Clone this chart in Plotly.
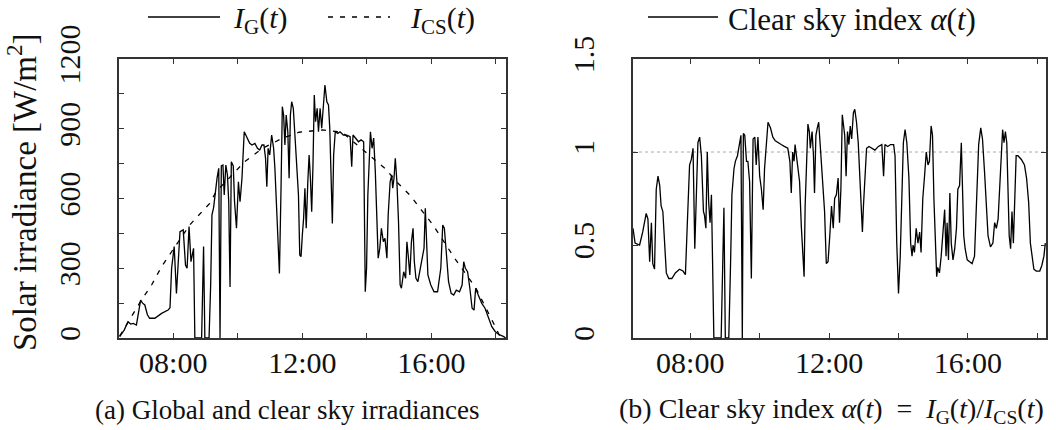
import plotly.graph_objects as go

# ---------------- data ----------------
# (a) global irradiance I_G(t) [W/m^2], time in hours
ig_hours = [6.34, 6.48, 6.60, 6.68, 6.76, 6.86, 6.99, 7.05, 7.12, 7.20, 7.27, 7.43, 7.64, 7.84, 7.90,
            7.95, 8.03, 8.10, 8.21, 8.31, 8.38, 8.43, 8.49, 8.55, 8.63, 8.67, 8.88, 8.94, 8.98, 9.11,
            9.16, 9.20, 9.25, 9.30, 9.36, 9.41, 9.45, 9.49, 9.54, 9.58, 9.63, 9.68, 9.72, 9.76, 9.80,
            9.86, 9.90, 9.96, 10.02, 10.07, 10.13, 10.20, 10.30, 10.37, 10.44, 10.53, 10.61, 10.68, 10.75,
            10.81, 10.86, 10.90, 10.94, 10.99, 11.05, 11.11, 11.15, 11.21, 11.25, 11.29, 11.34, 11.38,
            11.42, 11.46, 11.50, 11.55, 11.59, 11.63, 11.67, 11.72, 11.77, 11.82, 11.88, 11.92, 11.96,
            12.00, 12.04, 12.08, 12.12, 12.17, 12.21, 12.25, 12.29, 12.33, 12.37, 12.41, 12.46, 12.50,
            12.55, 12.60, 12.65, 12.70, 12.76, 12.81, 12.85, 12.89, 12.93, 12.97, 13.02, 13.10, 13.17,
            13.27, 13.38, 13.48, 13.53, 13.57, 13.64, 13.74, 13.82, 13.90, 13.95, 13.99, 14.03, 14.07,
            14.11, 14.16, 14.21, 14.26, 14.31, 14.35, 14.40, 14.45, 14.51, 14.56, 14.62, 14.66, 14.72,
            14.77, 14.80, 14.84, 14.88, 14.93, 14.98, 15.03, 15.07, 15.14, 15.20, 15.24, 15.28, 15.33,
            15.38, 15.43, 15.47, 15.52, 15.58, 15.64, 15.71, 15.77, 15.81, 15.86, 15.89, 15.98, 16.08,
            16.19, 16.29, 16.35, 16.40, 16.45, 16.53, 16.61, 16.69, 16.77, 16.87, 16.95, 17.00, 17.05,
            17.12, 17.19, 17.26, 17.32, 17.37, 17.45, 17.56, 17.66, 17.77, 17.87, 17.98, 18.08, 18.24,
            18.30]
ig_values = [6, 34, 70, 60, 63, 56, 163, 150, 142, 100, 85, 85, 106, 120, 130,
             300, 393, 192, 457, 465, 314, 300, 479, 328, 386, 0, 0, 393, 0, 0,
             229, 530, 560, 630, 690, 730, 0, 740, 744, 615, 744, 700, 586, 219, 758,
             740, 586, 472, 672, 586, 687, 887, 859, 837, 830, 837, 816, 809, 830,
             830, 773, 651, 816, 787, 873, 816, 730, 515, 357, 278, 644, 995,
             959, 830, 959, 887, 687, 959, 1016, 988, 873, 744, 615, 357, 350,
             443, 515, 644, 472, 672, 787, 687, 543, 744, 1045, 930, 988, 887,
             988, 902, 1016, 1088, 1016, 1002, 902, 715, 493, 787, 887, 880, 887,
             873, 873, 866, 737, 873, 859, 844, 852, 844, 199, 300, 615, 801,
             887, 816, 860, 720, 500, 343, 386, 472, 414, 429, 343, 529, 672,
             701, 644, 687, 773, 672, 500, 228, 214, 285, 257, 414, 357, 271,
             414, 472, 328, 257, 242, 285, 328, 386, 558, 371, 271, 228, 199,
             199, 300, 486, 472, 386, 242, 192, 185, 206, 199, 228, 328, 300,
             285, 214, 128, 120, 214, 185, 149, 128, 85, 49, 27, 16, 6,
             0]

# (a) clear sky irradiance I_CS(t) [W/m^2]
ics_hours = [6.34, 6.67, 7.00, 7.33, 7.64, 7.95, 8.51, 9.13, 9.33, 10.21, 10.77, 11.38, 11.90,
             12.62, 13.23, 13.95, 14.56, 14.92, 15.33, 15.69, 16.05, 16.72, 17.08, 17.38, 17.95,
             18.10, 18.22]
ics_values = [8, 85, 160, 228, 307, 371, 486, 579, 629, 758, 816, 859, 885,
              895, 885, 801, 730, 672, 615, 550, 486, 343, 271, 214, 56,
              13, 0]

# (b) clear sky index alpha(t)
alpha_hours = [6.35, 6.41, 6.54, 6.63, 6.73, 6.78, 6.83, 6.88, 6.92, 6.97, 7.02, 7.07, 7.12, 7.16,
               7.21, 7.26, 7.31, 7.38, 7.47, 7.57, 7.69, 7.79, 7.86, 7.91, 7.98, 8.03, 8.08, 8.13,
               8.17, 8.22, 8.27, 8.32, 8.38, 8.41, 8.45, 8.49, 8.53, 8.57, 8.61, 8.64, 8.68, 8.89,
               8.97, 9.01, 9.11, 9.16, 9.20, 9.26, 9.30, 9.36, 9.41, 9.46, 9.50, 9.53, 9.57, 9.62,
               9.66, 9.71, 9.76, 9.81, 9.86, 9.90, 9.95, 10.00, 10.05, 10.10, 10.14, 10.19, 10.24,
               10.31, 10.38, 10.45, 10.52, 10.62, 10.71, 10.81, 10.87, 10.91, 10.95, 10.99, 11.02,
               11.06, 11.10, 11.15, 11.20, 11.24, 11.28, 11.31, 11.35, 11.39, 11.43, 11.46, 11.51,
               11.55, 11.58, 11.62, 11.66, 11.70, 11.74, 11.78, 11.83, 11.87, 11.92, 11.97, 12.02,
               12.07, 12.12, 12.16, 12.21, 12.26, 12.30, 12.34, 12.38, 12.42, 12.45, 12.49, 12.53,
               12.57, 12.61, 12.65, 12.70, 12.74, 12.79, 12.84, 12.88, 12.92, 12.96, 12.99, 13.03,
               13.08, 13.15, 13.23, 13.32, 13.42, 13.52, 13.57, 13.61, 13.69, 13.77, 13.86, 13.90,
               13.95, 14.00, 14.05, 14.10, 14.14, 14.19, 14.24, 14.30, 14.35, 14.39, 14.42, 14.46,
               14.51, 14.56, 14.61, 14.65, 14.70, 14.75, 14.80, 14.85, 14.89, 14.94, 14.98, 15.02,
               15.06, 15.10, 15.13, 15.18, 15.23, 15.28, 15.33, 15.37, 15.40, 15.44, 15.48, 15.52,
               15.57, 15.62, 15.67, 15.71, 15.76, 15.81, 15.85, 15.88, 15.92, 15.98, 16.05, 16.12,
               16.19, 16.25, 16.31, 16.37, 16.42, 16.48, 16.53, 16.58, 16.65, 16.72, 16.77, 16.82,
               16.87, 16.92, 16.96, 17.00, 17.04, 17.08, 17.12, 17.15, 17.19, 17.23, 17.27, 17.31,
               17.35, 17.39, 17.44, 17.54, 17.63, 17.69, 17.75, 17.80, 17.85, 17.90, 17.97, 18.07,
               18.13, 18.19, 18.23]
alpha_values = [0.59, 0.51, 0.50, 0.57, 0.67, 0.64, 0.41, 0.62, 0.40, 0.37, 0.80, 0.87, 0.82, 0.71,
                0.68, 0.48, 0.35, 0.32, 0.32, 0.35, 0.37, 0.36, 0.34, 0.59, 0.93, 0.96, 1.02, 0.48,
                0.77, 1.05, 1.08, 0.98, 0.68, 0.66, 0.59, 1.00, 0.73, 0.62, 0.77, 0.48, 0.0, 0.0,
                0.70, 0.0, 0.0, 0.39, 0.77, 0.91, 0.95, 0.98, 1.04, 1.09, 0.0, 1.10, 1.09, 0.95,
                0.95, 0.84, 0.32, 1.07, 1.08, 0.93, 1.08, 0.87, 0.80, 0.69, 0.91, 1.05, 1.16,
                1.13, 1.08, 1.06, 1.05, 1.04, 1.03, 1.02, 0.95, 0.78, 1.00, 0.95, 1.04,
                0.98, 0.93, 0.84, 0.60, 0.42, 0.33, 0.71, 0.98, 1.15, 1.11, 1.02, 1.11,
                0.98, 0.78, 1.09, 1.13, 1.16, 1.05, 0.93, 0.84, 0.68, 0.40, 0.41, 0.55,
                0.71, 0.59, 0.75, 0.77, 0.86, 0.62, 0.80, 1.20, 1.13, 1.09, 0.87, 1.11,
                1.04, 1.14, 1.07, 1.21, 1.23, 1.16, 1.05, 0.91, 0.75, 0.57, 0.71, 0.89,
                1.02, 1.03, 1.02, 1.01, 1.03, 1.04, 0.87, 1.04, 1.03, 1.04, 1.04, 0.98,
                0.51, 0.24, 0.44, 0.80, 1.05, 1.12, 1.05, 0.86, 0.51, 0.44, 0.50, 0.46,
                0.59, 0.51, 0.57, 0.46, 0.75, 0.87, 1.00, 0.93, 0.95, 1.14, 1.09, 0.75,
                0.51, 0.33, 0.38, 0.35, 0.44, 0.57, 0.69, 0.44, 0.62, 0.42, 0.78, 0.51,
                0.42, 0.48, 0.59, 0.80, 0.82, 1.05, 0.69, 0.55, 0.48, 0.42, 0.41, 0.40,
                0.44, 0.71, 1.04, 1.13, 1.07, 0.89, 0.68, 0.55, 0.49, 0.51, 0.62, 0.59,
                0.64, 0.80, 0.98, 1.12, 1.05, 1.11, 1.05, 0.87, 0.55, 0.48, 0.68, 0.51,
                0.73, 0.98, 0.98, 0.96, 0.93, 0.86, 0.73, 0.51, 0.44, 0.37, 0.36, 0.36,
                0.39, 0.44, 0.51]

time_tickvals = [8, 12, 16]
time_ticktext = ["08:00", "12:00", "16:00"]
time_minor = [10, 14, 18]
irr_tickvals = [0, 300, 600, 900, 1200]
irr_ticktext = ["0", "300", "600", "900", "1200"]
irr_minor = [150, 450, 750, 1050]
alpha_tickvals = [0, 0.5, 1, 1.5]
alpha_ticktext = ["0", "0.5", "1", "1.5"]

# ---------------- figure ----------------
W, H = 1056, 430
FONT = "Liberation Serif"
AX = "#333333"
TXT = "#111111"


def px(x):
    return x / W


def py(y):
    return (H - y) / H


fig = go.Figure()
fig.add_trace(go.Scatter(x=ig_hours, y=ig_values, mode="lines", name="I_G(t)",
                         line=dict(color="black", width=1.3), xaxis="x", yaxis="y"))
fig.add_trace(go.Scatter(x=ics_hours, y=ics_values, mode="lines", name="I_CS(t)",
                         line=dict(color="black", width=1.3, dash="5px,7px"), xaxis="x", yaxis="y"))
fig.add_trace(go.Scatter(x=alpha_hours, y=alpha_values, mode="lines", name="alpha(t)",
                         line=dict(color="black", width=1.3), xaxis="x2", yaxis="y2"))

common_axis = dict(showline=True, linecolor=AX, linewidth=1.5, mirror="ticks",
                   ticks="inside", ticklen=5, tickwidth=1.2, tickcolor=AX,
                   showgrid=False, zeroline=False, automargin=False,
                   tickfont=dict(family=FONT, size=30, color=TXT))


def minor(vals):
    return dict(tickmode="array", tickvals=vals, ticks="inside", ticklen=5, tickwidth=1.2,
                tickcolor=AX, showgrid=False)


ydom = [py(338), py(59)]
fig.update_layout(
    width=W, height=H, margin=dict(l=0, r=0, t=0, b=0, autoexpand=False),
    paper_bgcolor="white", plot_bgcolor="white", showlegend=False,
    font=dict(family=FONT, color=TXT),
    xaxis=dict(domain=[px(119), px(506)], range=[6.32, 18.31], anchor="y",
               tickmode="array", tickvals=time_tickvals, ticktext=time_ticktext,
               minor=minor(time_minor), ticklabelstandoff=-3, **common_axis),
    yaxis=dict(domain=ydom, range=[0, 1200], anchor="x",
               tickmode="array", tickvals=irr_tickvals, ticktext=irr_ticktext,
               minor=minor(irr_minor), tickangle=-90, ticklabelstandoff=25, **common_axis),
    xaxis2=dict(domain=[px(633), px(1046)], range=[6.35, 18.25], anchor="y2",
                tickmode="array", tickvals=time_tickvals, ticktext=time_ticktext,
                minor=minor(time_minor), ticklabelstandoff=-3, **common_axis),
    yaxis2=dict(domain=ydom, range=[0, 1.5], anchor="x2",
                tickmode="array", tickvals=alpha_tickvals, ticktext=alpha_ticktext,
                tickangle=-90, ticklabelstandoff=25, **common_axis),
)

# dotted reference line at alpha = 1
fig.add_shape(type="line", xref="x2 domain", yref="y2", x0=0, x1=1, y0=1, y1=1,
              line=dict(color="#aaaaaa", width=1, dash="dot"), layer="below")

# manual legends (above the panels)
LEG_LINE_Y = 17
LEG_TEXT_Y = 20
fig.add_shape(type="line", xref="paper", yref="paper", x0=px(148), x1=px(220),
              y0=py(LEG_LINE_Y), y1=py(LEG_LINE_Y), line=dict(color="black", width=1.3))
fig.add_shape(type="line", xref="paper", yref="paper", x0=px(328), x1=px(390),
              y0=py(LEG_LINE_Y), y1=py(LEG_LINE_Y), line=dict(color="black", width=1.3, dash="5px,7px"))
fig.add_shape(type="line", xref="paper", yref="paper", x0=px(648), x1=px(718),
              y0=py(LEG_LINE_Y), y1=py(LEG_LINE_Y), line=dict(color="black", width=1.3))

leg = dict(xref="paper", yref="paper", showarrow=False, xanchor="left", yanchor="middle",
           font=dict(family=FONT, size=30, color=TXT))
fig.add_annotation(x=px(231), y=py(LEG_TEXT_Y), text="<i>I</i><sub>G</sub>(<i>t</i>)", **leg)
fig.add_annotation(x=px(408), y=py(LEG_TEXT_Y), text="<i>I</i><sub>CS</sub>(<i>t</i>)", **leg)
fig.add_annotation(x=px(726), y=py(LEG_TEXT_Y), text="Clear sky index <i>α</i>(<i>t</i>)",
                   **dict(leg, font=dict(family=FONT, size=31, color=TXT)))

# y axis title
fig.add_annotation(x=px(22), y=py(192), xref="paper", yref="paper", showarrow=False,
                   xanchor="center", yanchor="middle", textangle=-90,
                   text="Solar irradiance [W/m<sup>2</sup>]",
                   font=dict(family=FONT, size=33, color=TXT))

# captions
cap = dict(xref="paper", yref="paper", showarrow=False, xanchor="center", yanchor="middle",
           font=dict(family=FONT, size=27, color=TXT))
fig.add_annotation(x=px(287), y=py(410), text="(a) Global and clear sky irradiances", **cap)
cap_b = dict(cap, font=dict(family=FONT, size=28, color=TXT))
fig.add_annotation(x=px(831), y=py(410),
                   text="(b) Clear sky index <i>α</i>(<i>t</i>)&#8194;=&#8194;<i>I</i><sub>G</sub>(<i>t</i>)/<i>I</i><sub>CS</sub>(<i>t</i>)",
                   **cap_b)

fig.write_html("out.html", config={"displayModeBar": False},
               post_script="document.body.style.margin='0px';")
